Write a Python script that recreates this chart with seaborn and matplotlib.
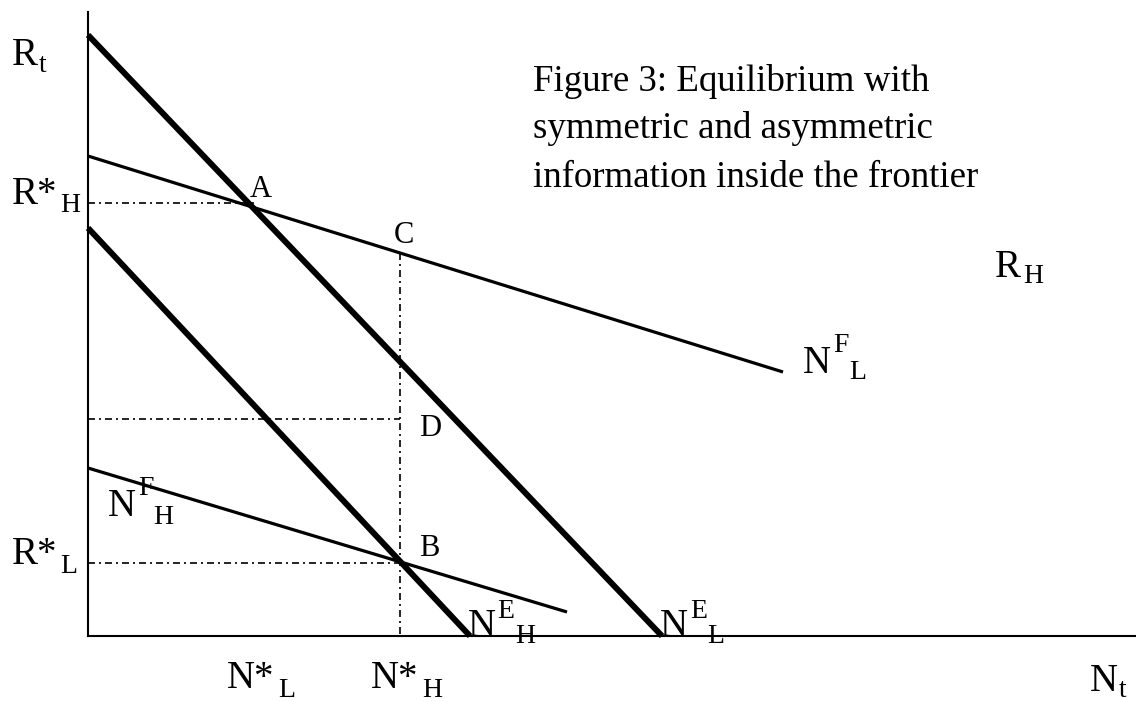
import matplotlib
matplotlib.use("Agg")
import matplotlib.pyplot as plt
import seaborn as sns

# diagram units: 1 unit = 100 px from the origin corner
ne_l_x = [0.0, 5.74]
ne_l_y = [6.01, 0.0]
ne_h_x = [0.0, 3.82]
ne_h_y = [4.08, 0.0]
nf_l_x = [0.0, 6.95]
nf_l_y = [4.80, 2.64]
nf_h_x = [0.0, 4.79]
nf_h_y = [1.68, 0.24]

# equilibrium points
r_star_h = 4.33
r_star_l = 0.73
r_d = 2.17
n_star_h = 3.12
r_c = 3.83
n_a = 1.67

title_lines = ["Figure 3: Equilibrium with",
               "symmetric and asymmetric",
               "information inside the frontier"]

sns.set_theme(style="white")
plt.rcParams["font.family"] = ["Liberation Serif", "DejaVu Serif"]

fig = plt.figure(figsize=(11.36, 7.02), dpi=100)
ax = fig.add_axes([0, 0, 1, 1])
ax.set_xlim(-0.88, 10.48)
ax.set_ylim(-0.66, 6.36)

thick = 4.3
thin = 2.3
for xs, ys, lw in [(ne_l_x, ne_l_y, thick), (ne_h_x, ne_h_y, thick),
                   (nf_l_x, nf_l_y, thin), (nf_h_x, nf_h_y, thin)]:
    sns.lineplot(x=xs, y=ys, ax=ax, color="black", lw=lw,
                 estimator=None, sort=False, solid_capstyle="butt")

guides = [([0, n_a], [r_star_h, r_star_h]),
          ([n_star_h, n_star_h], [r_c, 0]),
          ([0, n_star_h], [r_d, r_d]),
          ([0, n_star_h], [r_star_l, r_star_l])]
for xs, ys in guides:
    sns.lineplot(x=xs, y=ys, ax=ax, color="black", lw=1.2,
                 estimator=None, sort=False, dashes=False,
                 linestyle=(0, (4.2, 2.4, 1.2, 2.4)))

# axes as spines through the origin
for side in ["top", "right"]:
    ax.spines[side].set_visible(False)
ax.spines["left"].set_position(("data", 0))
ax.spines["bottom"].set_position(("data", 0))
ax.spines["left"].set_bounds(0, 6.24)
ax.spines["bottom"].set_bounds(0, 10.48)
for side in ["left", "bottom"]:
    ax.spines[side].set_color("black")
    ax.spines[side].set_linewidth(1.5)
ax.set_xticks([])
ax.set_yticks([])
ax.grid(False)

BIG = 28
SMALL = 20
PT = 22


def px(x, y):
    return (x - 88) / 100, (636 - y) / 100


def label(pieces):
    # pieces: (text, size, x_px, baseline_px)
    for t, size, x, y in pieces:
        ax.text(*px(x, y), t, fontsize=size, ha="left", va="baseline",
                color="black")


label([("R", BIG, 12, 65), ("t", SMALL, 39, 72)])
label([("R*", BIG, 12, 204), ("H", SMALL, 60, 212)])
label([("R*", BIG, 12, 564), ("L", SMALL, 60, 573)])
label([("N*", BIG, 227, 688), ("L", SMALL, 278, 697)])
label([("N*", BIG, 371, 688), ("H", SMALL, 422, 697)])
label([("N", BIG, 1090, 691), ("t", SMALL, 1119, 697)])
label([("R", BIG, 995, 277), ("H", SMALL, 1023, 283)])
label([("N", BIG, 108, 516), ("F", SMALL, 138, 495), ("H", SMALL, 153, 524)])
label([("N", BIG, 468, 636), ("E", SMALL, 497, 618), ("H", SMALL, 515, 643)])
label([("N", BIG, 660, 636), ("E", SMALL, 690, 618), ("L", SMALL, 707, 643)])
label([("N", BIG, 803, 373), ("F", SMALL, 833, 352), ("L", SMALL, 849, 379)])
label([("A", PT, 250, 197), ("C", PT, 394, 243),
       ("D", PT, 419, 436), ("B", PT, 419, 556)])

for line, base in zip(title_lines, [91, 138, 187]):
    ax.text(*px(533, base), line, fontsize=26.6, ha="left", va="baseline",
            color="black")

fig.savefig("out.png", dpi=100)
